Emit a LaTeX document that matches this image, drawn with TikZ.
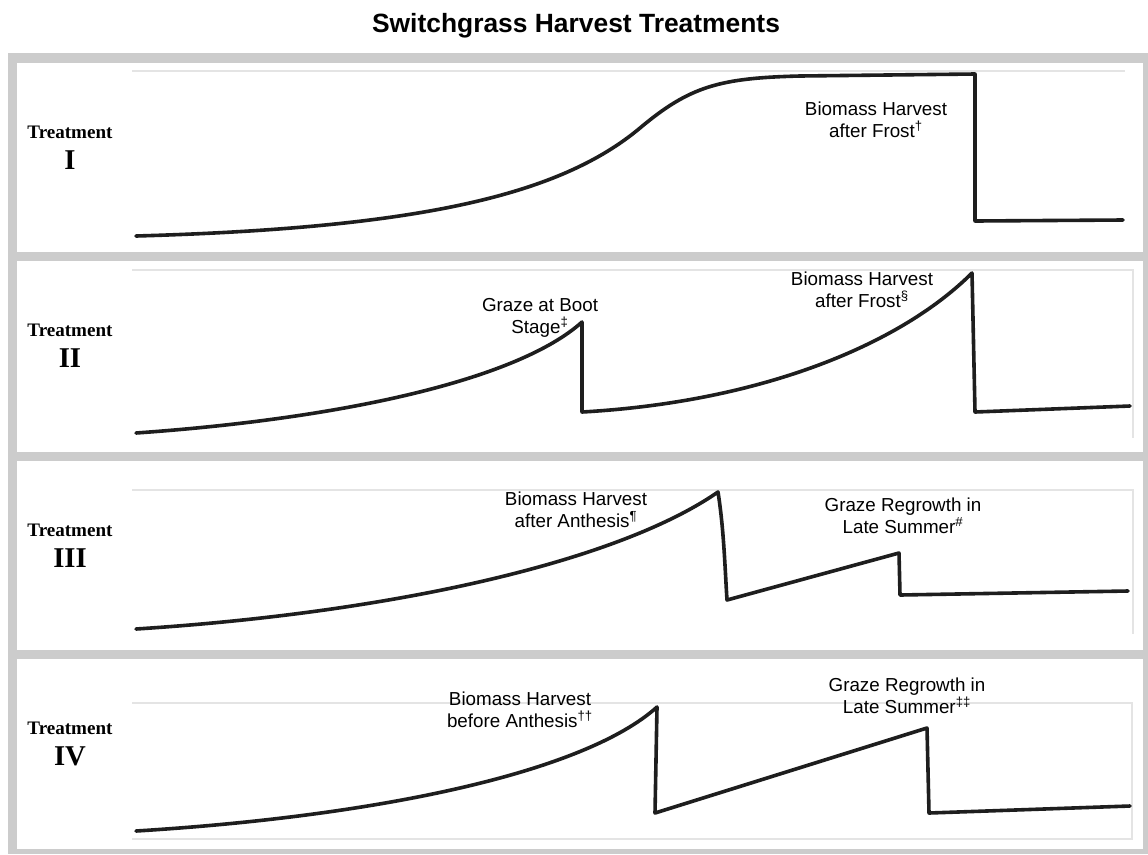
\documentclass[tikz,border=0pt]{standalone}
\usepackage{fontspec}
\setmainfont{Liberation Sans}
\newfontfamily\treatfont{Liberation Serif}

\definecolor{framegray}{HTML}{CCCCCC}
\definecolor{axisgray}{HTML}{E4E4E4}
\definecolor{curveblack}{HTML}{1E1E1E}

\tikzset{
    curve/.style={draw=curveblack, line width=2.7pt, line join=round, line cap=round},
    plotbox/.style={draw=axisgray, line width=0.9pt},
    note/.style={align=center, anchor=base, inner sep=0pt,
        font=\fontsize{14.1}{16.5}\selectfont},
    treat/.style={anchor=base, inner sep=0pt,
        font=\treatfont\bfseries\fontsize{14.3}{16}\selectfont},
    numeral/.style={anchor=base, inner sep=0pt,
        font=\treatfont\bfseries\fontsize{21.5}{24}\selectfont}
}

\begin{document}
\begin{tikzpicture}[x=0.75pt, y=-0.75pt]

    \useasboundingbox (0,0) rectangle (1148,854);

    % серая рамка и панели
    \fill[framegray] (8,53) rectangle (1148,854);
    \foreach \top/\bot in {63/252, 261/452, 461/650, 659/849}
        \fill[white] (17,\top) rectangle (1143,\bot);

    % заголовок
    \node[anchor=base, inner sep=0pt, font=\bfseries\fontsize{19.8}{23}\selectfont]
        (title) at (576,32) {Switchgrass Harvest Treatments};

    % подписи слева
    \foreach \num/\top in {I/63, II/261, III/461, IV/659} {
        \node[treat] (treat\num) at (70,\top+75) {Treatment};
        \node[numeral] (num\num) at (70,\top+106) {\num};
    }

    % оси графиков
    \draw[plotbox] (132,71) -- (1125,71);
    \draw[plotbox] (132,270) -- (1133,270) -- (1133,438);
    \draw[plotbox] (132,490) -- (1133,490) -- (1133,634);
    \draw[plotbox] (132,703) -- (1132,703) -- (1132,839) -- (132,839);

    % панель I
    \coordinate (A1) at (136,236);
    \coordinate (P1) at (975,74);
    \coordinate (L1) at (975,221);
    \coordinate (E1) at (1123,220);
    \draw[curve] (A1) .. controls (420,228) and (560,195) .. (640,128)
        .. controls (690,86) and (720,78) .. (800,76) -- (P1) -- (L1) -- (E1);
    \node[note] (frostI) at (876,137) {Biomass Harvest\\after Frost\textsuperscript{†}};

    % панель II
    \coordinate (A2) at (136,433);
    \coordinate (P2) at (582,322);
    \coordinate (L2) at (582,412);
    \coordinate (Q2) at (972,273);
    \coordinate (M2) at (975,412);
    \coordinate (E2) at (1130,406);
    \draw[curve] (A2) .. controls (350,418) and (520,378) .. (P2) -- (L2)
        .. controls (760,402) and (900,345) .. (Q2) -- (M2) -- (E2);
    \node[note] (bootII) at (540,333) {Graze at Boot\\Stage\textsuperscript{‡}};
    \node[note] (frostII) at (862,307) {Biomass Harvest\\after Frost\textsuperscript{§}};

    % панель III
    \coordinate (A3) at (136,629);
    \coordinate (P3) at (718,492);
    \coordinate (L3) at (727,600);
    \coordinate (Q3) at (899,553);
    \coordinate (M3) at (900,595);
    \coordinate (E3) at (1128,591);
    \draw[curve] (A3) .. controls (400,612) and (620,560) .. (P3)
        .. controls (724,530) and (725,570) .. (L3) -- (Q3) -- (M3) -- (E3);
    \node[note] (anthIII) at (576,527) {Biomass Harvest\\after Anthesis\textsuperscript{¶}};
    \node[note] (grazeIII) at (903,533) {Graze Regrowth in\\Late Summer\textsuperscript{\#}};

    % панель IV
    \coordinate (A4) at (136,831);
    \coordinate (P4) at (657,707);
    \coordinate (L4) at (655,813);
    \coordinate (Q4) at (927,728);
    \coordinate (M4) at (929,813);
    \coordinate (E4) at (1130,806);
    \draw[curve] (A4) .. controls (380,816) and (585,772) .. (P4) -- (L4)
        -- (Q4) -- (M4) -- (E4);
    \node[note] (anthIV) at (520,727) {Biomass Harvest\\before Anthesis\textsuperscript{††}};
    \node[note] (grazeIV) at (907,713) {Graze Regrowth in\\Late Summer\textsuperscript{‡‡}};

\end{tikzpicture}
\end{document}
